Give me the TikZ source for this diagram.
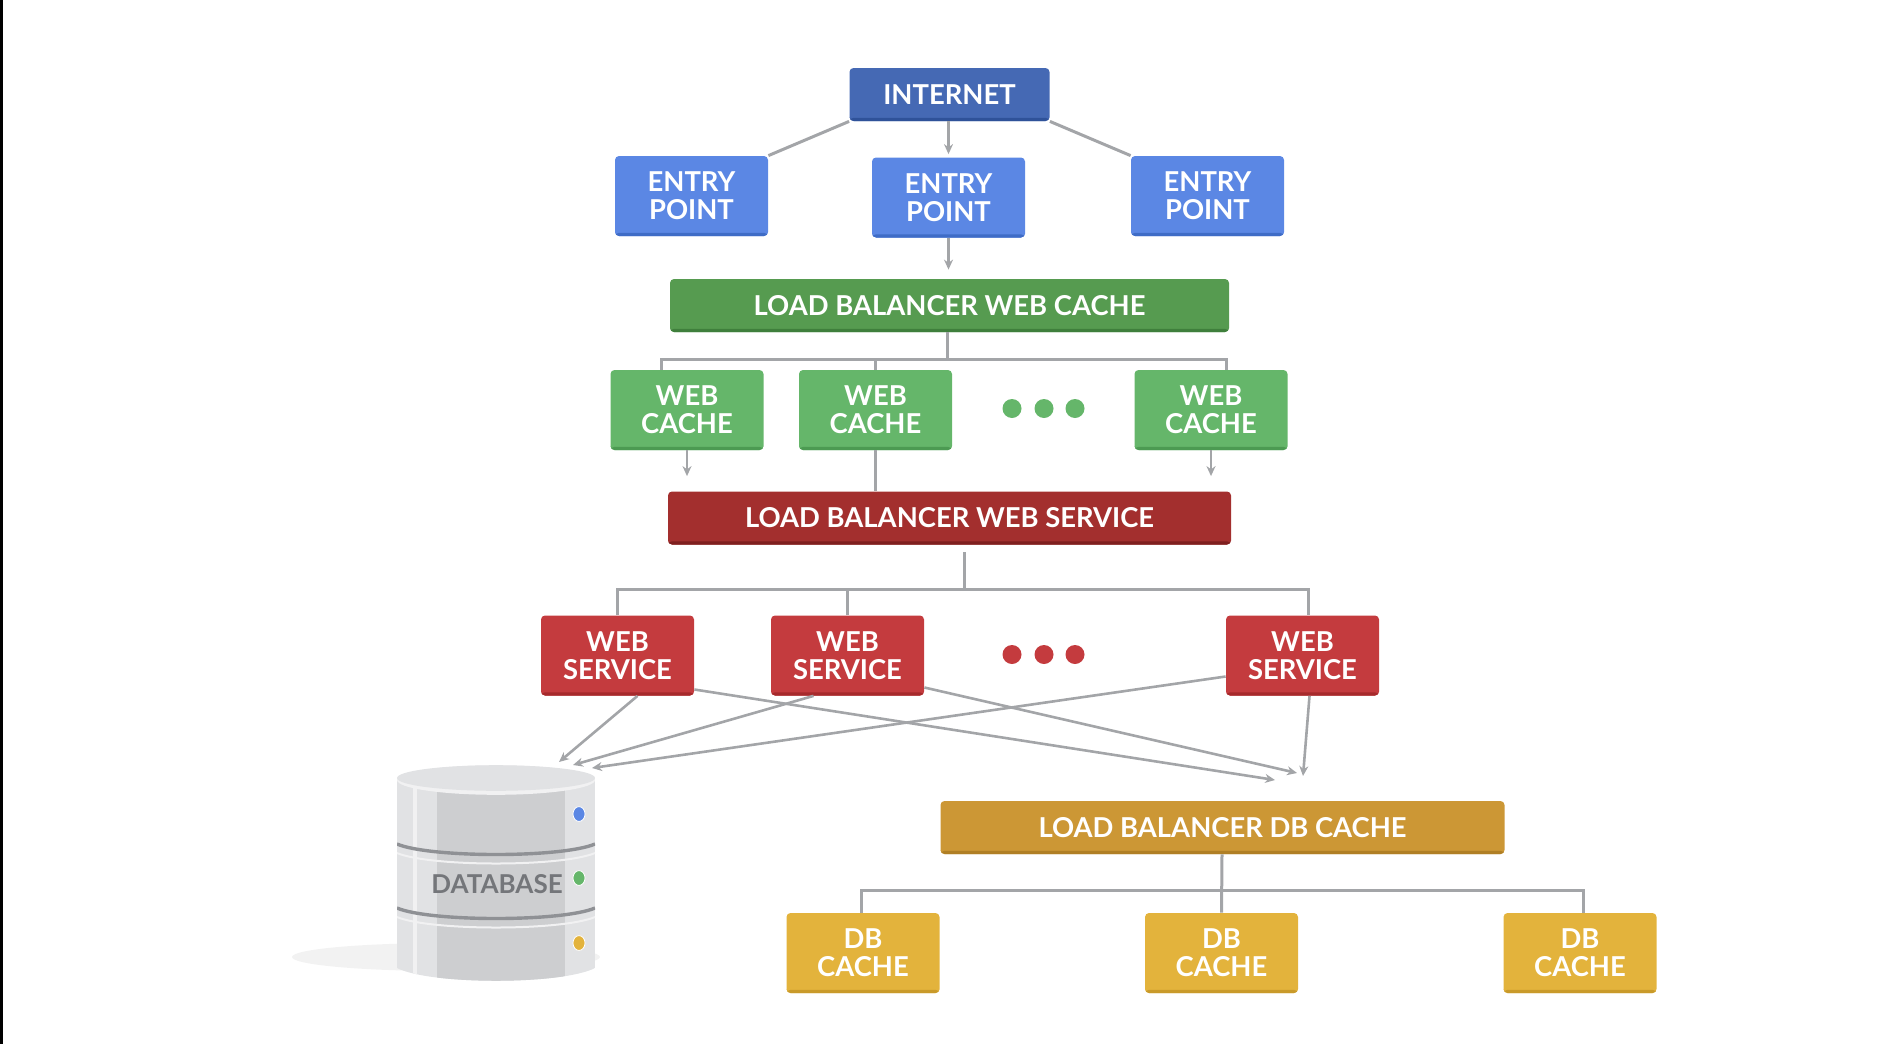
\documentclass[tikz,border=0pt]{standalone}
\usepackage{fontspec}
\setmainfont{Lato}
\usetikzlibrary{arrows.meta}
\definecolor{netblue}{HTML}{4569B4}
\definecolor{netbluedark}{HTML}{2F5299}
\definecolor{entryblue}{HTML}{5B87E4}
\definecolor{entrybluedark}{HTML}{3F6CC6}
\definecolor{lbgreen}{HTML}{569B50}
\definecolor{lbgreendark}{HTML}{3F7F3C}
\definecolor{cachegreen}{HTML}{65B66A}
\definecolor{cachegreendark}{HTML}{4C9A52}
\definecolor{lbred}{HTML}{A32F2E}
\definecolor{lbreddark}{HTML}{7E1F1F}
\definecolor{servicered}{HTML}{C43B3E}
\definecolor{serviceredark}{HTML}{A62A2C}
\definecolor{lbgold}{HTML}{CC9735}
\definecolor{lbgolddark}{HTML}{B07F25}
\definecolor{cachegold}{HTML}{E3B33C}
\definecolor{cachegolddark}{HTML}{C99A2A}
\definecolor{wiregray}{HTML}{A3A5A8}
\definecolor{diskface}{HTML}{CDCED0}
\definecolor{diskside}{HTML}{E1E2E4}
\definecolor{diskrim}{HTML}{F1F1F2}
\definecolor{diskband}{HTML}{8F9195}
\definecolor{disktext}{HTML}{74767A}
\tikzset{
    tile/.style 2 args={fill=#1, rounded corners=2pt, text=white, align=center, inner sep=0pt,
        font=\fontsize{13.7}{14}\selectfont\bfseries,
        path picture={\fill[#2] ([yshift=1.6pt]path picture bounding box.south west) rectangle (path picture bounding box.south east);}},
    smalltile/.style={minimum width=76.5pt, minimum height=40pt},
    longtile/.style={minimum height=26.5pt},
    wire/.style={draw=wiregray, line width=1.5pt},
    feed/.style={draw=wiregray, line width=1.3pt, -{Stealth[length=5pt, width=4.5pt]}},
    morebtn/.style={circle, fill=#1, minimum size=9.5pt, inner sep=0pt},
    diskdot/.style={fill=#1, draw=white, line width=0.4pt}
}
\begin{document}
\begin{tikzpicture}[x=0.5pt, y=-0.5pt]
    \useasboundingbox (0, 0) rectangle (1882, 1044);
    \fill[black] (0, 0) rectangle (3, 1044);

    \node[tile={netblue}{netbluedark}, minimum width=100pt, longtile] (internet) at (949.5, 94.5) {INTERNET};
    \node[tile={entryblue}{entrybluedark}, smalltile] (entry1) at (691.5, 196) {ENTRY\\POINT};
    \node[tile={entryblue}{entrybluedark}, smalltile] (entry2) at (948.5, 197.5) {ENTRY\\POINT};
    \node[tile={entryblue}{entrybluedark}, smalltile] (entry3) at (1207.5, 196) {ENTRY\\POINT};

    \node[tile={lbgreen}{lbgreendark}, minimum width=279.5pt, longtile] (lbwebcache) at (949.5, 305.5) {LOAD BALANCER WEB CACHE};
    \node[tile={cachegreen}{cachegreendark}, smalltile] (webcache1) at (687, 410) {WEB\\CACHE};
    \node[tile={cachegreen}{cachegreendark}, smalltile] (webcache2) at (875.5, 410) {WEB\\CACHE};
    \node[tile={cachegreen}{cachegreendark}, smalltile] (webcache3) at (1211, 410) {WEB\\CACHE};
    \node[morebtn=cachegreen] (cachedot1) at (1012, 408.5) {};
    \node[morebtn=cachegreen] (cachedot2) at (1044, 408.5) {};
    \node[morebtn=cachegreen] (cachedot3) at (1075, 408.5) {};

    \node[tile={lbred}{lbreddark}, minimum width=281.5pt, longtile] (lbwebservice) at (949.5, 518) {LOAD BALANCER WEB SERVICE};
    \node[tile={servicered}{serviceredark}, smalltile] (webservice1) at (617.5, 655.5) {WEB\\SERVICE};
    \node[tile={servicered}{serviceredark}, smalltile] (webservice2) at (847.5, 655.5) {WEB\\SERVICE};
    \node[tile={servicered}{serviceredark}, smalltile] (webservice3) at (1302.5, 655.5) {WEB\\SERVICE};
    \node[morebtn=servicered] (servicedot1) at (1012, 654.5) {};
    \node[morebtn=servicered] (servicedot2) at (1044, 654.5) {};
    \node[morebtn=servicered] (servicedot3) at (1075, 654.5) {};

    \node[tile={lbgold}{lbgolddark}, minimum width=282pt, longtile] (lbdbcache) at (1222.5, 827.5) {LOAD BALANCER DB CACHE};
    \node[tile={cachegold}{cachegolddark}, smalltile] (dbcache1) at (863, 953) {DB\\CACHE};
    \node[tile={cachegold}{cachegolddark}, smalltile] (dbcache2) at (1221.5, 953) {DB\\CACHE};
    \node[tile={cachegold}{cachegolddark}, smalltile] (dbcache3) at (1580, 953) {DB\\CACHE};

    \coordinate (cachebus) at (947, 359);
    \coordinate (servicetop) at (964, 552);
    \coordinate (servicebus) at (964, 589);
    \coordinate (dbbus) at (1222, 890);
    \coordinate (dbin1) at (559, 762);
    \coordinate (dbin2) at (573, 765);
    \coordinate (dbin3) at (592, 768);
    \coordinate (lbin1) at (1275, 780);
    \coordinate (lbin2) at (1297, 773);
    \coordinate (lbin3) at (1303, 776);

    \draw[wire] (internet.south west) -- (entry1.north east);
    \draw[wire] (internet.south east) -- (entry3.north west);
    \draw[feed, shorten >=1.5pt] (internet.south -| entry2.north) -- (entry2.north);
    \draw[feed, shorten >=4.5pt] (entry2.south) -- (entry2.south |- lbwebcache.north);

    \draw[wire] (cachebus |- lbwebcache.south) -- (cachebus);
    \draw[wire] ([xshift=-13pt]webcache1.north) |- (cachebus) -| ([xshift=7.5pt]webcache3.north);
    \draw[wire] (webcache2.north) -- (webcache2.north |- cachebus);
    \draw[feed, shorten >=7.5pt] (webcache1.south) -- (webcache1.south |- lbwebservice.north);
    \draw[wire] (webcache2.south) -- (webcache2.south |- lbwebservice.north);
    \draw[feed, shorten >=7.5pt] (webcache3.south) -- (webcache3.south |- lbwebservice.north);

    \draw[wire] (servicetop) -- (servicebus);
    \draw[wire] (webservice1.north) |- (servicebus) -| ([xshift=3pt]webservice3.north);
    \draw[wire] (webservice2.north) -- (webservice2.north |- servicebus);

    \draw[feed] ([xshift=10pt]webservice1.south) -- (dbin1);
    \draw[feed] ([xshift=-17pt]webservice2.south) -- (dbin2);
    \draw[feed] ([yshift=-10.5pt]webservice3.west) -- (dbin3);
    \draw[feed] ([yshift=-17pt]webservice1.east) -- (lbin1);
    \draw[feed] ([yshift=-16pt]webservice2.east) -- (lbin2);
    \draw[feed] ([xshift=3.5pt]webservice3.south) -- (lbin3);

    \draw[wire] (lbdbcache.south -| dbbus) -- (dbcache2.north);
    \draw[wire] ([xshift=-1pt]dbcache1.north) |- (dbbus) -| ([xshift=1.75pt]dbcache3.north);

    \fill[black!5] (446, 957) ellipse [x radius=77pt, y radius=7pt];
    \begin{scope}
        \clip (397, 780) -- (397, 968) .. controls (430, 985) and (562, 985) .. (595, 968) -- (595, 780) -- cycle;
        \fill[diskside] (397, 780) rectangle (595, 985);
        \fill[diskrim] (413, 780) rectangle (417, 985);
        \fill[diskface] (437, 780) rectangle (565, 985);
        \draw[diskrim, line width=1pt] (397, 853) .. controls (430, 867) and (562, 867) .. (595, 853);
        \draw[diskrim, line width=1pt] (397, 917) .. controls (430, 931) and (562, 931) .. (595, 917);
        \draw[diskband, line width=1.7pt] (397, 844) .. controls (430, 858) and (562, 858) .. (595, 844);
        \draw[diskband, line width=1.7pt] (397, 908) .. controls (430, 922) and (562, 922) .. (595, 908);
    \end{scope}
    \fill[diskrim] (496, 780) ellipse [x radius=49.5pt, y radius=7.4pt];
    \fill[diskside] (496, 778) ellipse [x radius=49.5pt, y radius=6.4pt];
    \fill[diskdot=entryblue] (579, 814) ellipse [x radius=3pt, y radius=3.7pt];
    \fill[diskdot=cachegreen] (579, 878) ellipse [x radius=3pt, y radius=3.7pt];
    \fill[diskdot=cachegold] (579, 943) ellipse [x radius=3pt, y radius=3.7pt];
    \node[text=disktext, inner sep=0pt, font=\fontsize{13}{13}\selectfont\bfseries] (dbname) at (497, 884) {DATABASE};
\end{tikzpicture}
\end{document}
